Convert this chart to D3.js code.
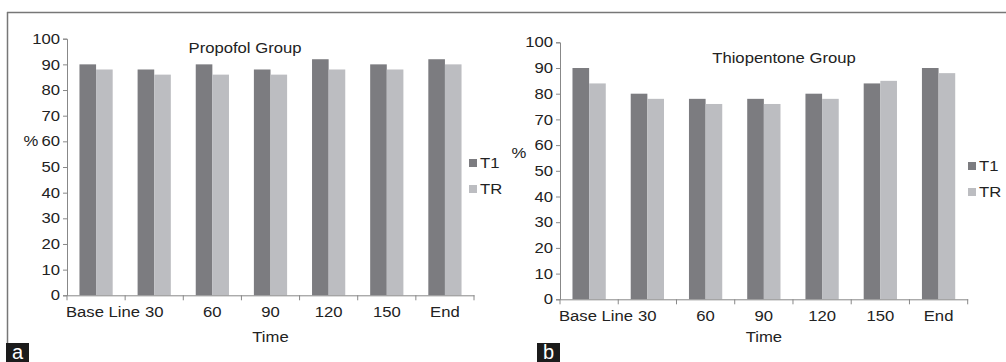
<!DOCTYPE html>
<html>
<head>
<meta charset="utf-8">
<script src="https://cdn.jsdelivr.net/npm/d3@7"></script>
<style>
  body { margin: 0; background: #fff; }
  text { font-family: "Liberation Sans", Arial, sans-serif; fill: #222; }
</style>
</head>
<body>
<svg id="chart"></svg>
<script>
// data
const categories = ["Base Line", "30", "60", "90", "120", "150", "End"];
const seriesNames = ["T1", "TR"];
const propofolT1 = [90, 88, 90, 88, 92, 90, 92];
const propofolTR = [88, 86, 86, 86, 88, 88, 90];
const thioT1 = [90, 80, 78, 78, 80, 84, 90];
const thioTR = [84, 78, 76, 76, 78, 85, 88];
const yTicks = [0, 10, 20, 30, 40, 50, 60, 70, 80, 90, 100];
const colors = { T1: "#7c7c80", TR: "#bcbdc1" };

const FS = 14.5;      // font size
const SX = 1.15;      // the scanned figure's text is a bit wide

const svg = d3.select("#chart").attr("width", 1006).attr("height", 362);

// outer frame lines
svg.append("line").attr("x1", 7).attr("x2", 1006).attr("y1", 12.5).attr("y2", 12.5)
  .attr("stroke", "#777").attr("stroke-width", 1.5);
svg.append("line").attr("x1", 7.5).attr("x2", 7.5).attr("y1", 12).attr("y2", 344)
  .attr("stroke", "#777").attr("stroke-width", 1.5);

function label(parent, x, y, str, anchor) {
  return parent.append("g").attr("transform", `translate(${x},${y})`)
    .append("text").attr("transform", `scale(${SX},1)`)
    .attr("text-anchor", anchor || "middle")
    .attr("dominant-baseline", "central")
    .attr("font-size", FS).text(str);
}

function drawPanel(cfg) {
  const g = svg.append("g");
  const x = d3.scaleBand().domain(categories).range([cfg.left, cfg.right]);
  const xs = d3.scaleBand().domain(seriesNames).range([0, x.bandwidth()]).paddingOuter(0.75);
  const y = d3.scaleLinear().domain([0, 100]).range([cfg.bottom, cfg.top]);

  const rows = categories.map((c, i) => ({ cat: c, T1: cfg.t1[i], TR: cfg.tr[i] }));

  g.selectAll("g.grp").data(rows).enter().append("g")
    .attr("transform", d => `translate(${x(d.cat)},0)`)
    .selectAll("rect").data(d => seriesNames.map(s => ({ s, v: d[s] }))).enter()
    .append("rect")
    .attr("x", d => xs(d.s))
    .attr("width", xs.bandwidth())
    .attr("y", d => y(d.v))
    .attr("height", d => y(0) - y(d.v))
    .attr("fill", d => colors[d.s]);

  // y axis
  const ya = g.append("g").attr("transform", `translate(${cfg.left},0)`)
    .call(d3.axisLeft(y).tickValues(yTicks).tickSize(4).tickPadding(2));
  ya.select(".domain").attr("stroke", "#888");
  ya.selectAll(".tick line").attr("stroke", "#888");
  ya.selectAll(".tick text").attr("font-size", FS).attr("fill", "#222")
    .attr("font-family", "'Liberation Sans', Arial, sans-serif")
    .attr("transform", `scale(${SX},1)`);

  // x axis: labels centred, ticks on band boundaries
  const xa = g.append("g").attr("transform", `translate(0,${cfg.bottom})`)
    .call(d3.axisBottom(x).tickSize(0).tickPadding(11));
  xa.select(".domain").attr("stroke", "#888");
  xa.selectAll(".tick text").attr("font-size", FS).attr("fill", "#222")
    .attr("font-family", "'Liberation Sans', Arial, sans-serif")
    .attr("transform", `scale(${SX},1)`)
    .attr("dx", (d, i) => i === 0 ? 6 : 0);
  const bounds = categories.map(c => x(c)).concat([cfg.right]);
  g.selectAll("line.xt").data(bounds).enter().append("line")
    .attr("x1", d => d).attr("x2", d => d)
    .attr("y1", cfg.bottom).attr("y2", cfg.bottom + 5)
    .attr("stroke", "#888");

  label(g, cfg.titleX, cfg.titleY, cfg.title);
  label(g, (cfg.left + cfg.right) / 2, 337, "Time");
  label(g, cfg.pctX, cfg.pctY, "%");

  // legend
  seriesNames.forEach((s, i) => {
    const ly = cfg.legY + i * 26;
    g.append("rect").attr("x", cfg.legX).attr("y", ly - 4).attr("width", 8).attr("height", 8)
      .attr("fill", colors[s]);
    label(g, cfg.legX + 11, ly, s, "start");
  });

  // panel letter
  g.append("rect").attr("x", cfg.letterX).attr("y", 343).attr("width", 23).attr("height", 19)
    .attr("fill", "#1b1b1b");
  g.append("text").attr("x", cfg.letterX + 11.5).attr("y", 359)
    .attr("text-anchor", "middle").attr("font-size", 20)
    .style("fill", "#fff").text(cfg.letter);
}

drawPanel({
  left: 67, right: 474, top: 38.7, bottom: 295.3,
  t1: propofolT1, tr: propofolTR,
  title: "Propofol Group", titleX: 245, titleY: 48,
  pctX: 31, pctY: 141,
  legX: 469, legY: 163,
  letter: "a", letterX: 6
});

drawPanel({
  left: 560, right: 967.7, top: 42.3, bottom: 299.3,
  t1: thioT1, tr: thioTR,
  title: "Thiopentone Group", titleX: 784, titleY: 58,
  pctX: 519, pctY: 153,
  legX: 968, legY: 166,
  letter: "b", letterX: 537
});
</script>
</body>
</html>
